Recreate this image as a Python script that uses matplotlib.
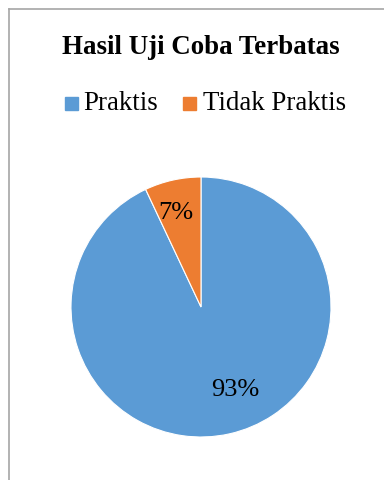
import matplotlib
matplotlib.use("Agg")
import matplotlib.pyplot as plt
from matplotlib.patches import Rectangle

categories = ["Praktis", "Tidak Praktis"]
values = [93, 7]
colors = ["#5B9BD5", "#ED7D31"]
title = "Hasil Uji Coba Terbatas"

plt.rcParams["font.family"] = ["Liberation Serif", "DejaVu Serif"]

W, H = 384, 481
fig = plt.figure(figsize=(W / 100, H / 100), dpi=100)
fig.patch.set_facecolor("white")

# chart-area frame (top and left edges visible)
fig.add_artist(plt.Line2D([8.5 / W, 1.0], [1 - 9.5 / H, 1 - 9.5 / H],
                          color="#a6a6a6", lw=1.2, transform=fig.transFigure))
fig.add_artist(plt.Line2D([8.5 / W, 8.5 / W], [0, 1 - 9.5 / H],
                          color="#a6a6a6", lw=1.2, transform=fig.transFigure))

# pie axes: center (201, 308), radius 130 px
cx, cy, r = 201, 308, 130
ax = fig.add_axes([(cx - r) / W, 1 - (cy + r) / H, 2 * r / W, 2 * r / H])
wedges, texts, autotexts = ax.pie(
    values, colors=colors, startangle=90, counterclock=False,
    autopct=lambda p: f"{p:.0f}%", pctdistance=0.75,
    wedgeprops=dict(edgecolor="white", linewidth=0.8),
    textprops=dict(fontsize=19, color="black"),
)
ax.set_xlim(-1, 1)
ax.set_ylim(-1, 1)
ax.set_aspect("equal")
autotexts[0].set_position((0.26, -0.63))
autotexts[1].set_position((-0.19, 0.73))

fig.text(cx / W, 1 - 48 / H, title, ha="center", va="center",
         fontsize=19.4, fontweight="bold")

# legend row
ly = 1 - 104 / H
fs = 19.4
sq = 13
fig.add_artist(Rectangle((65 / W, ly - sq / 2 / H), sq / W, sq / H,
                         transform=fig.transFigure, color=colors[0]))
fig.text(83 / W, ly, categories[0], ha="left", va="center", fontsize=fs)
fig.add_artist(Rectangle((183 / W, ly - sq / 2 / H), sq / W, sq / H,
                         transform=fig.transFigure, color=colors[1]))
fig.text(203 / W, ly, categories[1], ha="left", va="center", fontsize=fs)

fig.savefig("out.png", dpi=100, facecolor="white")
